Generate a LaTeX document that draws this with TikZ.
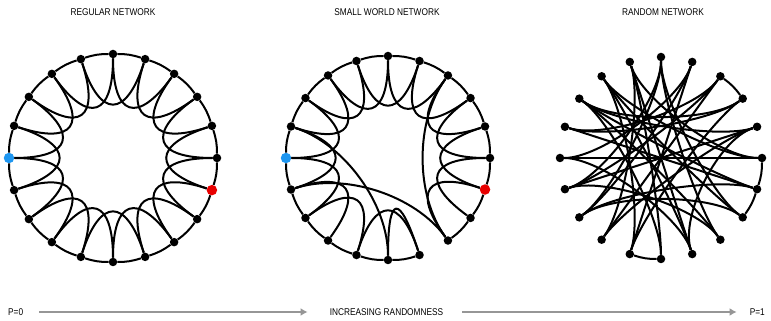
\documentclass[tikz,border=0pt]{standalone}
\usepackage{fontspec}
\usepackage{graphicx}
\setmainfont{Liberation Sans}
\usetikzlibrary{calc,arrows.meta}
\definecolor{dotblue}{RGB}{30,150,240}
\definecolor{dotred}{RGB}{232,0,0}
\definecolor{arrowgray}{RGB}{150,150,150}
\newcommand\lbltext[1]{\scalebox{1}[1.18]{#1}}
\tikzset{
  dot/.style={circle, fill=black, inner sep=0pt, minimum size=8.5pt},
  bluedot/.style={dot, fill=dotblue, minimum size=10.5pt},
  reddot/.style={dot, fill=dotred, minimum size=10.5pt},
  edge/.style={line width=2pt, black},
  lbl/.style={font=\fontsize{8.3}{9}\selectfont, inner sep=0pt},
  garrow/.style={line width=2.6pt, draw=arrowgray, -{Latex[length=7pt,width=8pt]}}
}
\begin{document}
\begin{tikzpicture}[x=1pt,y=1pt]
\useasboundingbox (0,0) rectangle (771,321);
\fill[white] (0,0) rectangle (771,321);

% ---------- titles ----------
\node[lbl] (t1) at (113,309) {\lbltext{REGULAR NETWORK}};
\node[lbl] (t2) at (387,309) {\lbltext{SMALL WORLD NETWORK}};
\node[lbl] (t3) at (663,309) {\lbltext{RANDOM NETWORK}};

% ---------- regular network ----------
\coordinate (rc) at (113,163);
\foreach \i in {0,...,19}{
  \node[dot] (r\i) at ([shift={(113,163)}]\i*18:104) {};
}
\node[bluedot] (r10) at ([shift={(113,163)}]180:104) {};
\node[reddot] (r19) at ([shift={(113,163)}]342:104) {};
\foreach \i in {0,...,19}{
  \pgfmathtruncatemacro\k{mod(\i+1,20)}
  \pgfmathtruncatemacro\j{mod(\i+2,20)}
  \draw[edge] (r\i) to[bend right=9] (r\k);
  \draw[edge] (r\i) .. controls ($(rc)!0.4!(r\i)$) and ($(rc)!0.4!(r\j)$) .. (r\j);
}

% ---------- small world network ----------
\coordinate (sc) at (388,163);
\foreach \i in {0,...,19}{
  \node[dot] (s\i) at ([shift={(388,163)}]\i*18:102) {};
}
\node[bluedot] (s10) at ([shift={(388,163)}]180:102) {};
\node[reddot] (s19) at ([shift={(388,163)}]342:102) {};
\foreach \a/\b in {0/1,1/2,2/3,3/4,4/5,5/6,6/7,7/8,8/9,9/10,10/11,11/12,12/13,13/14,14/15,15/16,17/18,18/19,19/0}{
  \draw[edge] (s\a) to[bend right=9] (s\b);
}
% neighbour-of-neighbour arches
\foreach \a/\b in {0/2,1/3,2/4,3/5,4/6,5/7,6/8,7/9,8/10,9/11,10/12,11/13,12/14,14/16,17/19,18/0,19/1}{
  \draw[edge] (s\a) .. controls ($(sc)!0.4!(s\a)$) and ($(sc)!0.4!(s\b)$) .. (s\b);
}
% tall arch between neighbours
\draw[edge] (s15) .. controls ($(sc)!0.36!(s15)$) and ($(sc)!0.36!(s16)$) .. (s16);
% rewired long edges
\foreach \a/\b in {9/15,11/17,3/17}{
  \draw[edge] (s\a) .. controls ($(sc)!0.45!(s\a)$) and ($(sc)!0.45!(s\b)$) .. (s\b);
}

% ---------- random network ----------
\coordinate (qc) at (661,163);
\foreach \i in {0,...,19}{
  \node[dot] (q\i) at ([shift={(661,163)}]\i*18:101) {};
}
\foreach \a/\b in {2/3,19/0,18/19,14/15}{
  \draw[edge] (q\a) to[bend right=9] (q\b);
}
\foreach \a/\b in {5/11,5/18,5/12,6/13,6/0,6/16,4/12,4/14,4/10,3/9,3/11,3/13,2/9,2/8,2/14,1/8,1/11,1/16,0/7,0/10,19/8,19/12,19/9,18/7,18/12,17/8,17/11,17/5,16/7,16/10,15/6,15/8,14/7,13/1}{
  \draw[edge] (q\a) .. controls ($(qc)!0.6!(q\a)$) and ($(qc)!0.6!(q\b)$) .. (q\b);
}

% ---------- bottom scale ----------
\node[lbl, anchor=west] (p0) at (8,9) {\lbltext{P=0}};
\node[lbl] (inc) at (386.5,9) {\lbltext{INCREASING RANDOMNESS}};
\node[lbl, anchor=east] (p1) at (765,9) {\lbltext{P=1}};
\draw[garrow] ([xshift=16pt]p0.east) -- ([xshift=-22pt]inc.west);
\draw[garrow] ([xshift=19pt]inc.east) -- ([xshift=-13pt]p1.west);
\end{tikzpicture}
\end{document}
